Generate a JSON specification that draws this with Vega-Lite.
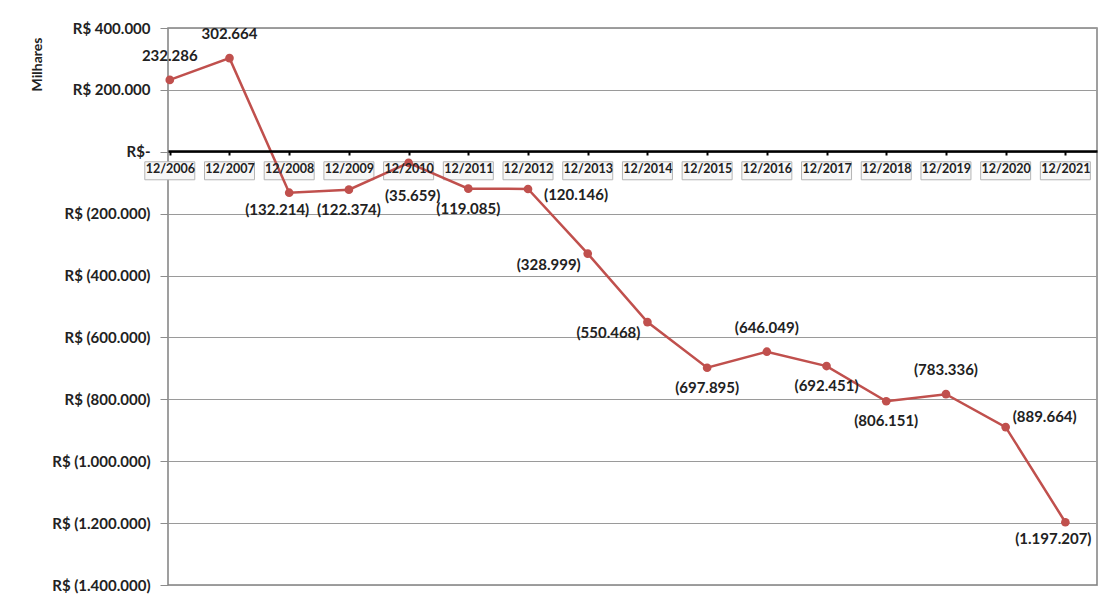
{
  "$schema": "https://vega.github.io/schema/vega-lite/v6.json",
  "autosize": "none",
  "width": 929,
  "height": 557,
  "padding": {"left": 168, "top": 28, "right": 3, "bottom": 11},
  "background": "white",
  "config": {
    "locale": {"number": {"decimal": ",", "thousands": ".", "grouping": [3], "currency": ["R$ ", ""]}},
    "view": {"stroke": "#808080", "strokeWidth": 1.5},
    "font": "Lato"
  },
  "data": {"values": [
    {"year": 2006, "v": 232286},
    {"year": 2007, "v": 302664},
    {"year": 2008, "v": -132214},
    {"year": 2009, "v": -122374},
    {"year": 2010, "v": -35659},
    {"year": 2011, "v": -119085},
    {"year": 2012, "v": -120146},
    {"year": 2013, "v": -328999},
    {"year": 2014, "v": -550468},
    {"year": 2015, "v": -697895},
    {"year": 2016, "v": -646049},
    {"year": 2017, "v": -692451},
    {"year": 2018, "v": -806151},
    {"year": 2019, "v": -783336},
    {"year": 2020, "v": -889664},
    {"year": 2021, "v": -1197207}
  ]},
  "transform": [
    {"calculate": "datum.v < 0 ? '(' + format(-datum.v, ',') + ')' : format(datum.v, ',')", "as": "label"}
  ],
  "encoding": {
    "x": {
      "field": "year", "type": "quantitative",
      "scale": {"domain": [2005.97, 2021.53], "nice": false, "zero": false},
      "axis": {
        "title": null, "grid": false, "offset": -434, "zindex": 1,
        "values": [2006,2007,2008,2009,2010,2011,2012,2013,2014,2015,2016,2017,2018,2019,2020,2021],
        "labelExpr": "'12/' + datum.value",
        "labelFont": "Lato", "labelFontWeight": "bold", "labelFontSize": 12.5, "labelColor": "#222222",
        "labelPadding": 7, "labelFlush": false, "labelOverlap": false,
        "domainColor": "#000000", "domainWidth": 2.5,
        "tickColor": "#000000", "tickSize": 4, "tickWidth": 2
      }
    },
    "y": {
      "field": "v", "type": "quantitative",
      "scale": {"domain": [-1400000, 400000], "nice": false},
      "axis": {
        "title": "Milhares",
        "titleFont": "Lato", "titleFontWeight": "bold", "titleFontSize": 14, "titleColor": "#222222",
        "titleX": -131, "titleY": 36, "titleAngle": -90, "titleAlign": "center", "titleBaseline": "middle",
        "values": [400000, 200000, 0, -200000, -400000, -600000, -800000, -1000000, -1200000, -1400000],
        "labelExpr": "datum.value == 0 ? 'R$-' : (datum.value > 0 ? 'R$ ' + format(datum.value, ',') : 'R$ (' + format(-datum.value, ',') + ')')",
        "labelFont": "Lato", "labelFontWeight": "bold", "labelFontSize": 15, "labelColor": "#222222",
        "labelPadding": 10,
        "gridColor": "#9a9a9a", "gridWidth": 1,
        "domain": false, "tickColor": "#8c8c8c", "tickSize": 8
      }
    }
  },
  "layer": [
    {
      "mark": {"type": "point", "shape": "M-1,-0.36H1V0.36H-1Z", "size": 2500, "filled": true, "fill": "#f7f7f7", "stroke": "#b5b5b5", "strokeWidth": 1, "opacity": 1, "yOffset": 19},
      "encoding": {"y": {"datum": 0}}
    },
    {"mark": {"type": "line", "color": "#c0504d", "strokeWidth": 2.5}},
    {"mark": {"type": "point", "filled": true, "color": "#c0504d", "size": 75, "opacity": 1}},
    {
      "transform": [{"filter": {"field": "year", "oneOf": [2006, 2007, 2016, 2019]}}],
      "mark": {"type": "text", "font": "Lato", "fontWeight": "bold", "fontSize": 15, "color": "#222222", "dy": -24, "baseline": "middle"},
      "encoding": {"text": {"field": "label"}}
    },
    {
      "transform": [{"filter": {"field": "year", "oneOf": [2009, 2011, 2015, 2017, 2018]}}],
      "mark": {"type": "text", "font": "Lato", "fontWeight": "bold", "fontSize": 15, "color": "#222222", "dy": 20, "baseline": "middle"},
      "encoding": {"text": {"field": "label"}}
    },
    {
      "transform": [{"filter": {"field": "year", "oneOf": [2008, 2021]}}],
      "mark": {"type": "text", "font": "Lato", "fontWeight": "bold", "fontSize": 15, "color": "#222222", "dx": -12, "dy": 17, "baseline": "middle"},
      "encoding": {"text": {"field": "label"}}
    },
    {
      "transform": [{"filter": {"field": "year", "oneOf": [2010]}}],
      "mark": {"type": "text", "font": "Lato", "fontWeight": "bold", "fontSize": 15, "color": "#222222", "dx": 4, "dy": 33, "baseline": "middle"},
      "encoding": {"text": {"field": "label"}}
    },
    {
      "transform": [{"filter": {"field": "year", "oneOf": [2012]}}],
      "mark": {"type": "text", "font": "Lato", "fontWeight": "bold", "fontSize": 15, "color": "#222222", "dx": 16, "dy": 6, "align": "left", "baseline": "middle"},
      "encoding": {"text": {"field": "label"}}
    },
    {
      "transform": [{"filter": {"field": "year", "oneOf": [2020]}}],
      "mark": {"type": "text", "font": "Lato", "fontWeight": "bold", "fontSize": 15, "color": "#222222", "dx": 7, "dy": -10, "align": "left", "baseline": "middle"},
      "encoding": {"text": {"field": "label"}}
    },
    {
      "transform": [{"filter": {"field": "year", "oneOf": [2013, 2014]}}],
      "mark": {"type": "text", "font": "Lato", "fontWeight": "bold", "fontSize": 15, "color": "#222222", "dx": -7, "dy": 11, "align": "right", "baseline": "middle"},
      "encoding": {"text": {"field": "label"}}
    }
  ]
}
